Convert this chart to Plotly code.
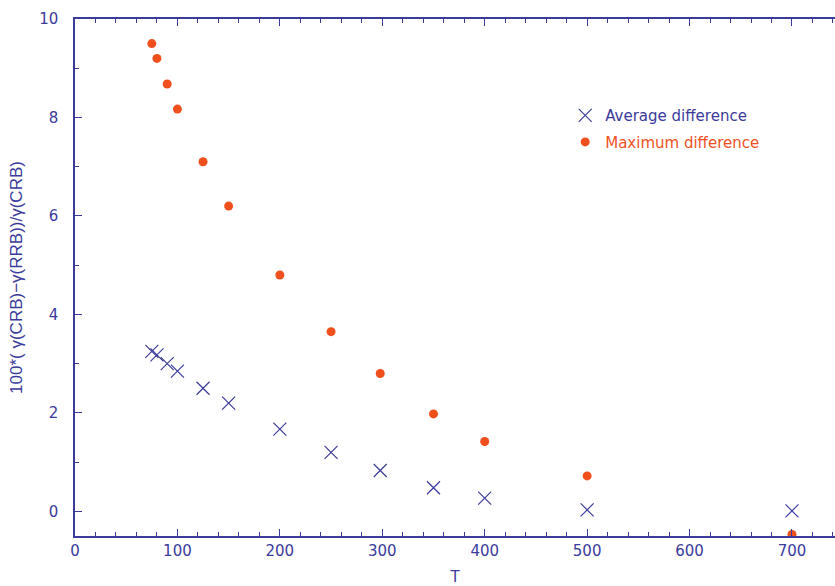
import plotly.graph_objects as go

# Temperatures and relative differences (percent)
T = [75, 80, 90, 100, 125, 150, 200, 250, 298, 350, 400, 500, 700]
avg_diff = [3.25, 3.18, 3.0, 2.85, 2.5, 2.2, 1.67, 1.2, 0.83, 0.48, 0.27, 0.03, 0.01]
max_diff = [9.5, 9.2, 8.68, 8.17, 7.1, 6.2, 4.8, 3.65, 2.8, 1.98, 1.42, 0.72, -0.47]

BLUE = "#3b3b9c"
ORANGE = "#f0501e"
FONT = "DejaVu Sans"

fig = go.Figure()
fig.add_trace(go.Scatter(
    x=T, y=avg_diff, mode="markers", name="Average difference", legendgroup="avg",
    marker=dict(symbol="x-thin", size=13, line=dict(color=BLUE, width=1.2), color=BLUE),
))
fig.add_trace(go.Scatter(
    x=T, y=max_diff, mode="markers", legendgroup="max",
    name="<span style='color:%s'>Maximum difference</span>" % ORANGE,
    marker=dict(symbol="circle", size=9, color=ORANGE),
))

axis_common = dict(
    showgrid=False, zeroline=False, showline=True, linecolor=BLUE, linewidth=1.5,
    ticks="inside", tickcolor=BLUE, ticklen=7, tickwidth=1.2,
    tickfont=dict(family=FONT, size=15, color=BLUE),
)

fig.update_xaxes(
    range=[0, 742], dtick=100, tick0=0, mirror="ticks",
    minor=dict(dtick=20, ticks="inside", ticklen=4, tickcolor=BLUE, tickwidth=1.2),
    title=dict(text="T", font=dict(family=FONT, size=15, color=BLUE), standoff=17),
    **axis_common,
)
fig.update_yaxes(
    range=[-0.5, 10], dtick=2, tick0=0, mirror=False, ticklabelstandoff=12,
    minor=dict(dtick=1, ticks="inside", ticklen=4, tickcolor=BLUE, tickwidth=1.2),
    title=dict(text="100*( γ(CRB)−γ(RRB))/γ(CRB)",
               font=dict(family="Liberation Sans", size=17, color=BLUE), standoff=12),
    **axis_common,
)

fig.update_layout(
    width=835, height=586,
    margin=dict(l=75, r=0, t=19, b=50),
    plot_bgcolor="white", paper_bgcolor="white",
    showlegend=True,
    legend=dict(
        x=0.645, y=0.845, xanchor="left", yanchor="top",
        bgcolor="rgba(0,0,0,0)", borderwidth=0,
        font=dict(family=FONT, size=15, color=BLUE),
        tracegroupgap=4,
    ),
)

fig.write_html("out.html")
